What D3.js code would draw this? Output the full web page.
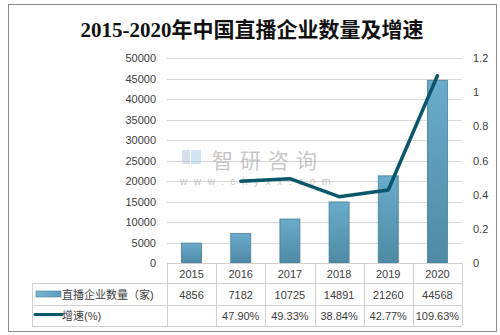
<!DOCTYPE html>
<html><head><meta charset="utf-8">
<script src="https://cdn.jsdelivr.net/npm/d3@7"></script>
<style>body{margin:0;background:#fff}svg{display:block}</style>
</head><body><svg id="c" width="500" height="335"></svg>
<script>
const years = ["2015","2016","2017","2018","2019","2020"];
const counts = [4856, 7182, 10725, 14891, 21260, 44568];
const growth = [null, 0.4790, 0.4933, 0.3884, 0.4277, 1.0963];
const growthLabels = ["", "47.90%", "49.33%", "38.84%", "42.77%", "109.63%"];
const leftTicks = [0,5000,10000,15000,20000,25000,30000,35000,40000,45000,50000];
const rightTicks = [0,0.2,0.4,0.6,0.8,1,1.2];
const seriesNames = ["直播企业数量（家)", "增速(%)"];
const title = "2015-2020年中国直播企业数量及增速";

const svg = d3.select("#c");
const L = 167, R = 462, T = 58, B = 263;
const font = "'Liberation Sans','Noto Sans CJK SC',sans-serif";

const defs = svg.append("defs");
const g1 = defs.append("linearGradient").attr("id","bg").attr("x1",0).attr("y1",0).attr("x2",1).attr("y2",0);
g1.append("stop").attr("offset","0%").attr("stop-color","#78b6d4");
g1.append("stop").attr("offset","100%").attr("stop-color","#5a9bbb");
const g2 = defs.append("linearGradient").attr("id","bv").attr("x1",0).attr("y1",0).attr("x2",0).attr("y2",1);
g2.append("stop").attr("offset","0%").attr("stop-color","#6aaccc");
g2.append("stop").attr("offset","100%").attr("stop-color","#4f8aa4");

// outer border
svg.append("rect").attr("x",8.5).attr("y",4.5).attr("width",488).attr("height",327)
  .attr("fill","#fff").attr("stroke","#8c8c8c").attr("stroke-width",1);

svg.append("text").attr("x",252).attr("y",37).attr("text-anchor","middle")
  .attr("font-family","'Liberation Serif','Noto Sans CJK SC',serif").attr("font-weight","bold")
  .attr("font-size",21).attr("fill","#111").text(title);

const x = d3.scaleBand().domain(years).range([L,R]).padding(0);
const y = d3.scaleLinear().domain([0,50000]).range([B,T]);
const y2 = d3.scaleLinear().domain([0,1.2]).range([B,T]);

// grid
svg.append("g").selectAll("line").data(leftTicks.slice(1)).join("line")
  .attr("x1",L).attr("x2",R).attr("y1",d=>Math.round(y(d))+0.5).attr("y2",d=>Math.round(y(d))+0.5)
  .attr("stroke","#d9d9d9");

// left axis
const ax = svg.append("g").attr("transform",`translate(${L-4},0)`)
  .call(d3.axisLeft(y).tickValues(leftTicks).tickSize(0).tickPadding(7).tickFormat(d3.format("d")));
ax.select(".domain").remove();
ax.selectAll("text").attr("font-family",font).attr("font-size",11).attr("fill","#404040");

// right axis
const ar = svg.append("g").attr("transform",`translate(${R+4},0)`)
  .call(d3.axisRight(y2).tickValues(rightTicks).tickSize(0).tickPadding(7).tickFormat(d=>String(d)));
ar.select(".domain").remove();
ar.selectAll("text").attr("font-family",font).attr("font-size",11).attr("fill","#404040");

// watermark
const wm = svg.append("g").attr("opacity",0.55);
wm.append("rect").attr("x",182).attr("y",150).attr("width",8).attr("height",14).attr("fill","#b8c8dc");
wm.append("rect").attr("x",191).attr("y",150).attr("width",10).attr("height",14).attr("fill","#a9d0ea");
wm.append("text").attr("x",212).attr("y",168).attr("font-family","'Noto Sans CJK SC',sans-serif")
  .attr("font-size",21).attr("fill","#9a9a9a").attr("letter-spacing",7).text("智研咨询");
wm.append("text").attr("x",180).attr("y",185).attr("font-family",font)
  .attr("font-size",10).attr("fill","#9a9a9a").attr("letter-spacing",6.6).text("www.chyxx.com");

// bars
const bw = 20;
svg.append("g").selectAll("rect").data(counts).join("rect")
  .attr("x",(d,i)=>x(years[i])+x.bandwidth()/2-bw/2)
  .attr("y",d=>y(d)).attr("width",bw).attr("height",d=>B-y(d))
  .attr("fill","url(#bv)").attr("stroke","#467f98").attr("stroke-width",0.8);

// line
const pts = growth.map((g,i)=>[x(years[i])+x.bandwidth()/2, g]).filter(p=>p[1]!==null);
svg.append("path").datum(pts)
  .attr("d",d3.line().x(p=>p[0]).y(p=>y2(p[1])))
  .attr("fill","none").attr("stroke","#0c566b").attr("stroke-width",3.5)
  .attr("stroke-linejoin","round").attr("stroke-linecap","round");

// table
const tb = svg.append("g");
const r0 = B, r1 = 283, r2 = 305, r3 = 326, TL = 32;
const lc = "#d0d0d0";
tb.append("line").attr("x1",L).attr("x2",R).attr("y1",r0+0.5).attr("y2",r0+0.5).attr("stroke",lc);
[r1,r2,r3].forEach(r=>tb.append("line").attr("x1",TL).attr("x2",R).attr("y1",r+0.5).attr("y2",r+0.5).attr("stroke",lc));
tb.append("line").attr("x1",TL+0.5).attr("x2",TL+0.5).attr("y1",r1).attr("y2",r3).attr("stroke",lc);
years.concat(["end"]).forEach((yr,i)=>{
  const xx = Math.round(L + i*x.bandwidth())+0.5;
  tb.append("line").attr("x1",xx).attr("x2",xx).attr("y1",r0).attr("y2",r3).attr("stroke",lc);
});
years.forEach((yr,i)=>{
  const cx = x(yr)+x.bandwidth()/2;
  tb.append("text").attr("x",cx).attr("y",277.5).attr("text-anchor","middle")
    .attr("font-family",font).attr("font-size",11).attr("fill","#404040").text(yr);
  tb.append("text").attr("x",cx).attr("y",298.5).attr("text-anchor","middle")
    .attr("font-family",font).attr("font-size",11).attr("fill","#404040").text(counts[i]);
  tb.append("text").attr("x",cx).attr("y",320).attr("text-anchor","middle")
    .attr("font-family",font).attr("font-size",11).attr("fill","#404040").text(growthLabels[i]);
});
// legend keys
tb.append("rect").attr("x",36).attr("y",291).attr("width",25).attr("height",6)
  .attr("fill","url(#bg)").attr("stroke","#467f98").attr("stroke-width",0.6);
tb.append("text").attr("x",62).attr("y",298.5).attr("font-family",font).attr("font-size",11)
  .attr("fill","#404040").text(seriesNames[0]);
tb.append("line").attr("x1",35).attr("x2",62).attr("y1",314.5).attr("y2",314.5)
  .attr("stroke","#0c566b").attr("stroke-width",3).attr("stroke-linecap","round");
tb.append("text").attr("x",62).attr("y",319.5).attr("font-family",font).attr("font-size",11)
  .attr("fill","#404040").text(seriesNames[1]);
</script></body></html>
